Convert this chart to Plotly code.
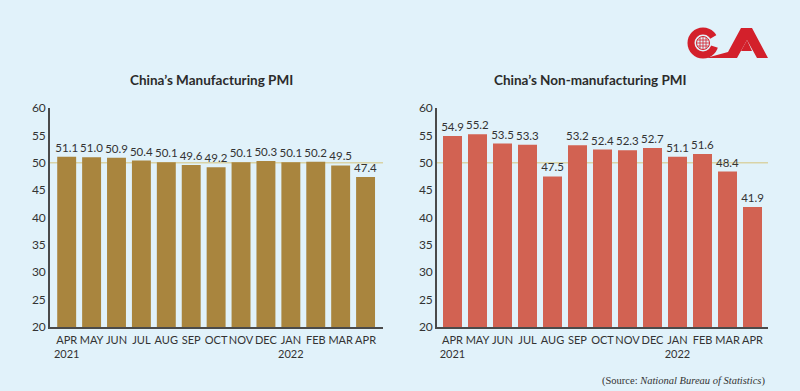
import plotly.graph_objects as go

months = ["APR<br>2021", "MAY", "JUN", "JUL", "AUG", "SEP", "OCT", "NOV", "DEC", "JAN<br>2022", "FEB", "MAR", "APR"]
mfg_pmi = [51.1, 51.0, 50.9, 50.4, 50.1, 49.6, 49.2, 50.1, 50.3, 50.1, 50.2, 49.5, 47.4]
nonmfg_pmi = [54.9, 55.2, 53.5, 53.3, 47.5, 53.2, 52.4, 52.3, 52.7, 51.1, 51.6, 48.4, 41.9]
titles = ["China’s Manufacturing PMI", "China’s Non-manufacturing PMI"]
y_ticks = [20, 25, 30, 35, 40, 45, 50, 55, 60]

BG = "#e1f2fa"
FONT = "Lato"
W, H = 800, 391

fig = go.Figure()
xidx = list(range(len(months)))

fig.add_trace(go.Bar(x=xidx, y=mfg_pmi, marker_color="#a9853e", marker_line_width=0,
                     text=[f"{v:.1f}" for v in mfg_pmi], textposition="outside", constraintext="none",
                     textfont=dict(size=11.5, color="#333333", family=FONT),
                     cliponaxis=False, xaxis="x", yaxis="y", width=0.76, hoverinfo="skip"))
fig.add_trace(go.Bar(x=xidx, y=nonmfg_pmi, marker_color="#d26252", marker_line_width=0,
                     text=[f"{v:.1f}" for v in nonmfg_pmi], textposition="outside", constraintext="none",
                     textfont=dict(size=11.5, color="#333333", family=FONT),
                     cliponaxis=False, xaxis="x2", yaxis="y2", width=0.76, hoverinfo="skip"))

ydom = [1 - 327 / H, 1 - 108 / H]
xcommon = dict(tickmode="array", tickvals=xidx, ticktext=months, showgrid=False, zeroline=False,
               showline=True, linecolor="#4a4a4a", linewidth=1.6, ticks="", tickangle=0,
               automargin=False,
               tickfont=dict(size=11, color="#333333", family=FONT), ticklabelstandoff=2)
ycommon = dict(range=[20, 60], tickvals=y_ticks, showgrid=False, zeroline=False,
               showline=True, linecolor="#4a4a4a", linewidth=1.6, ticks="", automargin=False,
               tickfont=dict(size=12, color="#333333", family=FONT), domain=ydom)

fig.update_layout(
    width=W, height=H, margin=dict(l=0, r=0, t=0, b=0, autoexpand=False),
    paper_bgcolor=BG, plot_bgcolor="rgba(0,0,0,0)", showlegend=False, barmode="overlay",
    xaxis=dict(domain=[50 / W, 383 / W], range=[-0.67, 12.7], anchor="y", **xcommon),
    yaxis=dict(anchor="x", **ycommon),
    xaxis2=dict(domain=[437 / W, 768 / W], range=[-0.62, 12.62], anchor="y2", **xcommon),
    yaxis2=dict(anchor="x2", **ycommon),
)

# reference lines at 50
for xr, yr in [("x domain", "y"), ("x2 domain", "y2")]:
    fig.add_shape(type="line", xref=xr, yref=yr, x0=0, x1=1, y0=50, y1=50,
                  line=dict(color="#d9d3a6", width=1.5), layer="below")

# titles
for t, cx in zip(titles, [211, 590]):
    fig.add_annotation(text=f"<b>{t}</b>", x=cx / W, y=1 - 80 / H, xref="paper", yref="paper",
                       xanchor="center", yanchor="middle", showarrow=False,
                       font=dict(size=13.5, color="#2b2b2b", family=FONT))

# source
fig.add_annotation(text="(Source: <i>National Bureau of Statistics</i>)", x=767 / W, y=1 - 381 / H,
                   xref="paper", yref="paper", xanchor="right", yanchor="middle", showarrow=False,
                   font=dict(size=10.5, color="#333333", family="Liberation Serif"))

# logo (approximation)
RED = "#d3202b"
def circ(cx, cy, r, **kw):
    fig.add_shape(type="circle", xref="paper", yref="paper",
                  x0=(cx - r) / W, x1=(cx + r) / W, y0=1 - (cy + r) / H, y1=1 - (cy - r) / H, **kw)
def poly(pts, color):
    d = "M " + " L ".join(f"{x / W},{1 - y / H}" for x, y in pts) + " Z"
    fig.add_shape(type="path", xref="paper", yref="paper", path=d, fillcolor=color,
                  line=dict(width=0))

circ(703, 43, 15.5, fillcolor=RED, line=dict(width=0))
poly([(703, 43), (720, 33), (722, 49)], BG)
circ(703, 43, 8.5, fillcolor=BG, line=dict(width=0))
circ(703, 43, 6.5, fillcolor=BG, line=dict(color=RED, width=1))
for dy in (-3, 0, 3):
    fig.add_shape(type="line", xref="paper", yref="paper", x0=697 / W, x1=709 / W,
                  y0=1 - (43 + dy) / H, y1=1 - (43 + dy) / H, line=dict(color=RED, width=0.8))
for dx in (-3, 0, 3):
    fig.add_shape(type="line", xref="paper", yref="paper", x0=(703 + dx) / W, x1=(703 + dx) / W,
                  y0=1 - 49 / H, y1=1 - 37 / H, line=dict(color=RED, width=0.8))
poly([(706, 58), (728, 52), (741, 28), (752, 28), (768, 58), (757, 58), (747, 40), (737, 58)], RED)
poly([(741, 51), (747, 40), (752, 51)], RED)

fig.write_html("out.html", config={"displayModeBar": False},
               post_script="document.body.style.margin='0';document.body.style.background='%s';" % BG)
